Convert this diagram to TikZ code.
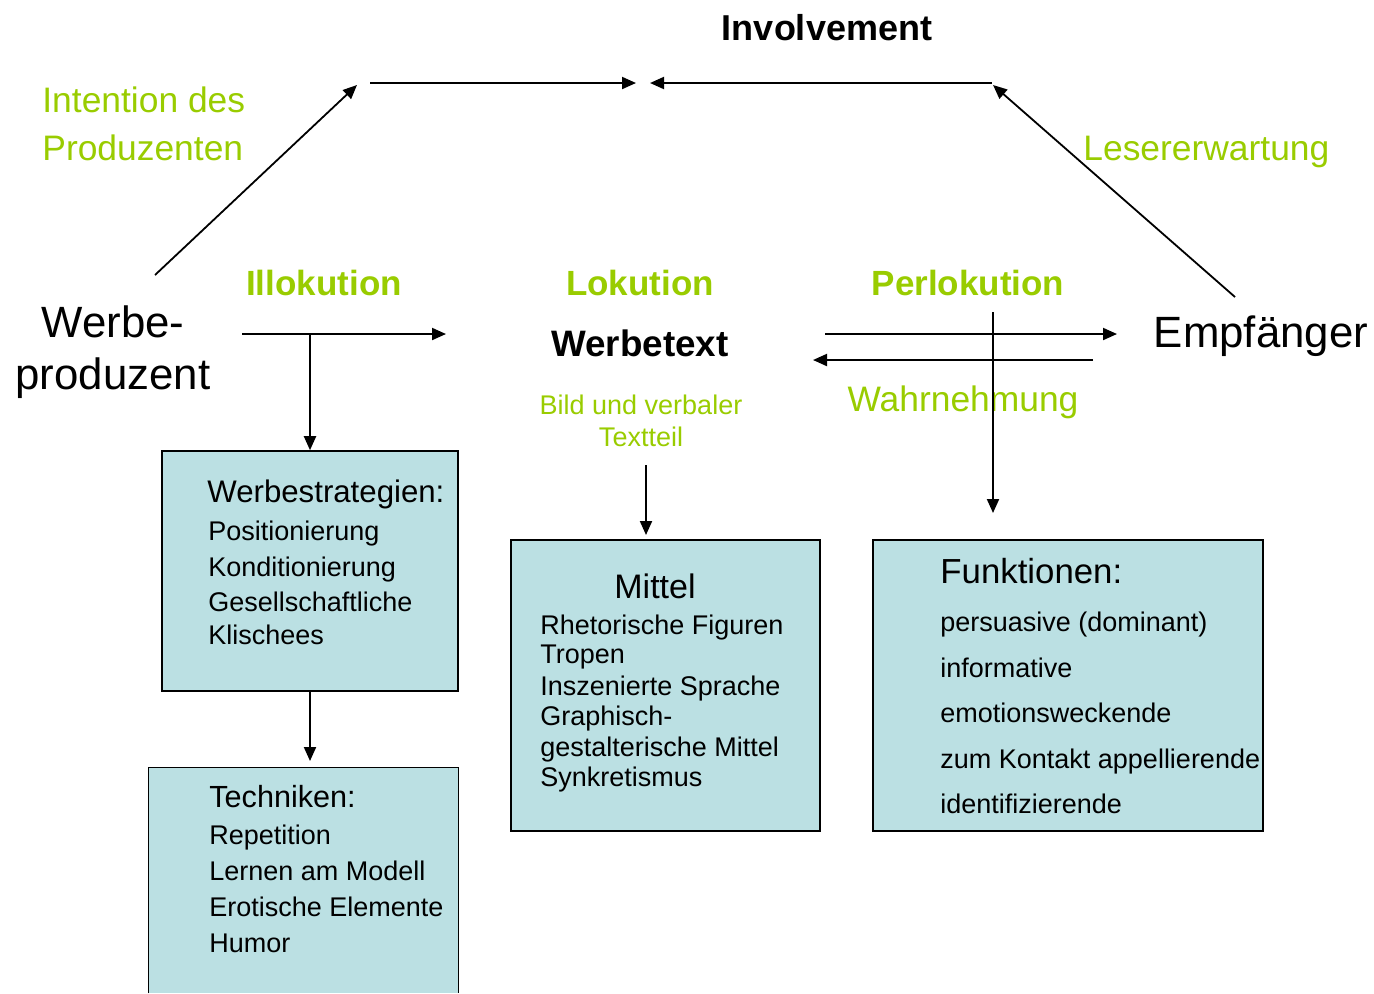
\documentclass[tikz,border=0pt]{standalone}
\usepackage{fontspec}
\setmainfont{Liberation Sans}
\usetikzlibrary{arrows.meta,fit}
\definecolor{lgreen}{RGB}{153,204,0}
\definecolor{boxfill}{RGB}{187,224,227}
\begin{document}
\begin{tikzpicture}[x=0.5pt,y=-0.5pt,
  txt/.style={inner sep=0pt, anchor=base west},
  ctxt/.style={inner sep=0pt, anchor=base},
  gt/.style={text=lgreen},
  item/.style={txt, font=\fontsize{13.5}{16}\selectfont},
  head/.style={ctxt, text=lgreen, font=\fontsize{17.5}{21}\selectfont\bfseries},
  glab/.style={gt, font=\fontsize{17.7}{21}\selectfont},
  big/.style={ctxt, font=\fontsize{21.9}{26}\selectfont},
  arr/.style={line width=1pt, -{Triangle[length=7pt,width=6pt]}},
  box/.style={fill=boxfill, draw=black, line width=0.8pt, inner sep=0pt}]
\useasboundingbox (0,0) rectangle (1374,993);

% top labels
\node[ctxt, font=\fontsize{18}{22}\selectfont\bfseries] (inv) at (827,40) {Involvement};
\node[txt, glab] (int1) at (42,112) {Intention des};
\node[txt, glab] (int2) at (42,160) {Produzenten};
\node[txt, glab] (les) at (1083,160) {Lesererwartung};

% headings
\node[head] (illo) at (324,295) {Illokution};
\node[head] (lok) at (640,295) {Lokution};
\node[head] (perl) at (968,295) {Perlokution};

% main actors
\node[big] (wp1) at (113,337) {Werbe-};
\node[big] (wp2) at (113,389) {produzent};
\node[ctxt, font=\fontsize{18.4}{22}\selectfont\bfseries] (wt) at (640,356) {Werbetext};
\node[big] (emp) at (1261,347) {Empfänger};
\node[ctxt, gt, font=\fontsize{13.5}{16}\selectfont] (bild1) at (641,414) {Bild und verbaler};
\node[ctxt, gt, font=\fontsize{13.5}{16}\selectfont] (bild2) at (641,446) {Textteil};
\node[ctxt, glab] (wahr) at (963,411) {Wahrnehmung};

% boxes
\node[box, fit={(162,451) (458,691)}] (ws) {};
\node[fill=boxfill, inner sep=0pt, fit={(149,768) (458,993)}] (tech) {};
\draw[line width=0.8pt] (tech.south west) -- (tech.north west) -- (tech.north east) -- (tech.south east);
\node[box, fit={(511,540) (820,831)}] (mit) {};
\node[box, fit={(873,540) (1263,831)}] (fun) {};

% box texts
\node[txt, font=\fontsize{15.6}{18}\selectfont] (ws0) at (207,502) {Werbestrategien:};
\node[item] (ws1) at (208,540) {Positionierung};
\node[item] (ws2) at (208,576) {Konditionierung};
\node[item] (ws3) at (208,611) {Gesellschaftliche};
\node[item] (ws4) at (208,644) {Klischees};

\node[txt, font=\fontsize{15.3}{18}\selectfont] (te0) at (209,807) {Techniken:};
\node[item] (te1) at (209,844) {Repetition};
\node[item] (te2) at (209,880) {Lernen am Modell};
\node[item] (te3) at (209,916) {Erotische Elemente};
\node[item] (te4) at (209,952) {Humor};

\node[ctxt, font=\fontsize{17}{20}\selectfont] (mi0) at (655,598) {Mittel};
\node[item] (mi1) at (540,634) {Rhetorische Figuren};
\node[item] (mi2) at (540,663) {Tropen};
\node[item] (mi3) at (540,695) {Inszenierte Sprache};
\node[item] (mi4) at (540,725) {Graphisch-};
\node[item] (mi5) at (540,756) {gestalterische Mittel};
\node[item] (mi6) at (540,786) {Synkretismus};

\node[txt, font=\fontsize{17.4}{20}\selectfont] (fu0) at (940,583) {Funktionen:};
\node[item] (fu1) at (940,631) {persuasive (dominant)};
\node[item] (fu2) at (940,677) {informative};
\node[item] (fu3) at (940,722) {emotionsweckende};
\node[item] (fu4) at (940,768) {zum Kontakt appellierende};
\node[item] (fu5) at (940,813) {identifizierende};

% connector coordinates
\coordinate (d1s) at (155,275);
\coordinate (d1e) at (357,85);
\coordinate (h1s) at (370,83);
\coordinate (h1e) at (636,83);
\coordinate (h2s) at (992,83);
\coordinate (h2e) at (650,83);
\coordinate (d2s) at (1235,297);
\coordinate (d2e) at (993,85);
\coordinate (ils) at (242,334);
\coordinate (ile) at (446,334);
\coordinate (ilb) at (310,334);
\coordinate (tein) at (310,761);
\coordinate (wts) at (646,465);
\coordinate (wte) at (646,535);
\coordinate (p1s) at (825,334);
\coordinate (p1e) at (1117,334);
\coordinate (p2s) at (1093,360);
\coordinate (p2e) at (813,360);
\coordinate (pvs) at (993,312);
\coordinate (pve) at (993,513);

% connectors
\draw[arr, line width=0.9pt] (d1s) -- (d1e);
\draw[arr] (h1s) -- (h1e);
\draw[arr] (h2s) -- (h2e);
\draw[arr, line width=0.9pt] (d2s) -- (d2e);
\draw[arr] (ils) -- (ile);
\draw[arr] (ilb) -- (ws.north);
\draw[arr] (ws.south) -- (tein);
\draw[arr] (wts) -- (wte);
\draw[arr] (p1s) -- (p1e);
\draw[arr] (p2s) -- (p2e);
\draw[arr] (pvs) -- (pve);
\end{tikzpicture}
\end{document}
